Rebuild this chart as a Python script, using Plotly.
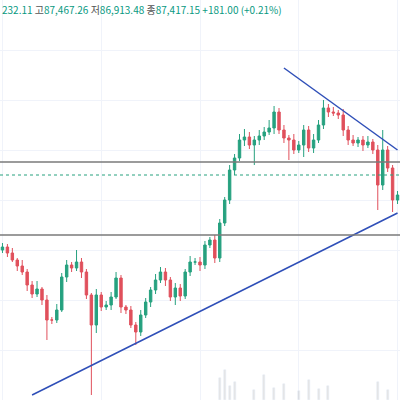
import plotly.graph_objects as go

# closes (screen-derived price units), one candle per ~5px
closes = [153, 147, 140, 134, 128, 115, 106, 111, 100, 80, 80, 90, 123, 135, 132, 138, 128, 105, 75, 105,
          93, 95, 103, 122, 93, 90, 75, 68, 85, 98, 110, 120, 128, 120, 103, 112, 104, 128, 138, 138,
          135, 155, 160, 142, 177, 200, 230, 242, 260, 263, 255, 260, 264, 268, 272, 288, 270, 262, 260, 250,
          255, 270, 252, 260, 275, 292, 288, 287, 285, 270, 260, 257, 260, 255, 258, 250, 215, 250, 232, 200, 205]
opens = [150] + closes[:-1]
up_wick = [4, 3, 5, 2, 6, 3, 4, 8, 2, 5, 3, 6, 4, 5, 3, 12, 4, 3, 2, 6,
           3, 4, 5, 6, 3, 2, 4, 3, 5, 4, 3, 6, 5, 4, 3, 5, 4, 3, 6, 4,
           5, 4, 3, 5, 4, 3, 5, 4, 6, 8, 5, 4, 6, 5, 8, 6, 4, 5, 3, 6,
           4, 5, 4, 6, 5, 8, 4, 5, 3, 6, 4, 5, 3, 4, 6, 3, 5, 20, 4, 3, 4]
dn_wick = [3, 4, 2, 5, 3, 6, 4, 3, 5, 20, 4, 3, 2, 5, 4, 3, 6, 4, 70, 8,
           4, 3, 5, 2, 6, 4, 3, 13, 4, 3, 5, 4, 3, 6, 4, 8, 5, 3, 4, 3,
           6, 4, 3, 5, 4, 3, 4, 5, 3, 6, 4, 20, 5, 4, 3, 6, 4, 5, 20, 4,
           3, 12, 4, 5, 3, 4, 5, 3, 4, 6, 5, 3, 4, 6, 3, 4, 25, 5, 4, 12, 4]
highs = [max(o, c) + w for o, c, w in zip(opens, closes, up_wick)]
lows = [min(o, c) - w for o, c, w in zip(opens, closes, dn_wick)]
idx = list(range(len(closes)))

# faint volume bars near the bottom
vol_idx = [44, 45, 46, 47, 51, 53, 55, 57, 60, 62, 64, 66, 76, 78]
vol = [22, 30, 14, 18, 10, 25, 12, 16, 9, 20, 11, 14, 18, 10]

levels = [238, 165]
last_level = 225
down_trend = ([57, 80], [332, 250])
up_trend = ([6, 80], [5, 187])

fig = go.Figure()
fig.add_trace(go.Bar(x=vol_idx, y=vol, marker_color="rgba(150,150,150,0.25)", width=0.4,
                     showlegend=False, hoverinfo="skip"))
fig.add_trace(go.Candlestick(
    x=idx, open=opens, high=highs, low=lows, close=closes,
    increasing=dict(line=dict(color="#26a17f", width=1), fillcolor="#26a17f"),
    decreasing=dict(line=dict(color="#e0505c", width=1), fillcolor="#e0505c"),
    whiskerwidth=0, showlegend=False))
for lv in levels:
    fig.add_hline(y=lv, line=dict(color="#7a7a7a", width=1.5))
fig.add_hline(y=last_level, line=dict(color="#26a17f", width=1, dash="dot"))
for xs, ys in (down_trend, up_trend):
    fig.add_trace(go.Scatter(x=xs, y=ys, mode="lines", line=dict(color="#2f4fb8", width=1.5),
                             showlegend=False, hoverinfo="skip"))

fig.add_annotation(
    x=0, y=1, xref="paper", yref="paper", xanchor="left", yanchor="top", showarrow=False,
    font=dict(family="Noto Sans CJK KR", size=10, color="#089981"),
    text="232.11 <span style='color:#555'>고</span>87,467.26 <span style='color:#555'>저</span>86,913.48 "
         "<span style='color:#555'>종</span>87,417.15 +181.00 (+0.21%)")

fig.update_layout(
    width=400, height=400, margin=dict(l=0, r=0, t=0, b=0),
    plot_bgcolor="white", paper_bgcolor="white", bargap=0,
    xaxis=dict(range=[-0.5, 80.5], showgrid=True, gridcolor="#f0f3fa", showticklabels=False,
               zeroline=False, rangeslider=dict(visible=False)),
    yaxis=dict(range=[0, 400], showgrid=True, gridcolor="#f0f3fa", showticklabels=False, zeroline=False),
)
fig.write_html("out.html", config={"displayModeBar": False},
               post_script="document.body.style.margin='0';")
